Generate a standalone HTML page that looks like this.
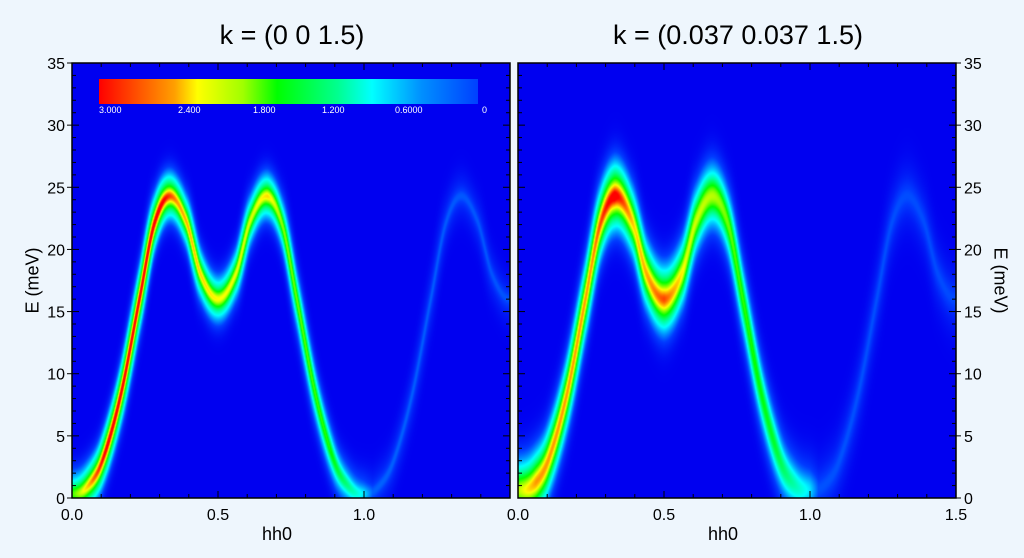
<!DOCTYPE html>
<html><head><meta charset="utf-8"><style>
html,body{margin:0;padding:0;}
body{width:1024px;height:558px;background:#eef6fd;position:relative;overflow:hidden;font-family:"Liberation Sans",sans-serif;}
canvas{position:absolute;}
.t{position:absolute;color:#000;}
.cb{position:absolute;color:#fff;font-size:9px;top:105px;}
</style></head><body>
<canvas id="c1" width="438" height="435" style="left:72px;top:63px"></canvas>
<canvas id="c2" width="438" height="435" style="left:518px;top:63px"></canvas>
<div style="position:absolute;left:99px;top:79px;width:379px;height:25px;background:linear-gradient(to right,#ff0000 0%,#ff5000 10%,#ffa000 20%,#ffff00 26%,#a0ff00 38%,#00ff00 47%,#00ff90 63%,#00ffff 72%,#0090ff 85%,#0040ff 100%)"></div>
<div class="cb" style="left:99px">3.000</div>
<div class="cb" style="left:178px">2.400</div>
<div class="cb" style="left:253px">1.800</div>
<div class="cb" style="left:322px">1.200</div>
<div class="cb" style="left:395px">0.6000</div>
<div class="cb" style="left:482px">0</div>
<svg width="1024" height="558" style="position:absolute;left:0;top:0" id="ax"></svg>
<div class="t" style="left:72px;width:440px;top:20px;text-align:center;font-size:27px">k = (0 0 1.5)</div>
<div class="t" style="left:518px;width:440px;top:20px;text-align:center;font-size:27px">k = (0.037 0.037 1.5)</div>
<div class="t" style="left:262px;top:524px;font-size:18px">hh0</div>
<div class="t" style="left:708px;top:524px;font-size:18px">hh0</div>
<div class="t" style="left:-12px;top:270px;font-size:18px;transform:rotate(-90deg);width:90px;text-align:center">E (meV)</div>
<div class="t" style="left:955px;top:270px;font-size:18px;transform:rotate(90deg);width:90px;text-align:center">E (meV)</div>
<script>
var P=[[0,0],[0.05,0.8],[0.1,2.8],[0.165,8.2],[0.23,16],[0.28,22],[0.333,24.3],[0.39,22.3],[0.44,18],[0.5,16],[0.56,18],[0.61,22.3]];
function cr(h){var i=0;while(i<P.length-2&&P[i+1][0]<h)i++;
var p0=P[Math.max(i-1,0)],p1=P[i],p2=P[i+1],p3=P[Math.min(i+2,P.length-1)];
var t=(h-p1[0])/(p2[0]-p1[0]);
var m1=(p2[1]-p0[1])/(p2[0]-p0[0])*(p2[0]-p1[0]),m2=(p3[1]-p1[1])/(p3[0]-p1[0])*(p2[0]-p1[0]);
if(i==0)m1=0;
var t2=t*t,t3=t2*t;return (2*t3-3*t2+1)*p1[1]+(t3-2*t2+t)*m1+(-2*t3+3*t2)*p2[1]+(t3-t2)*m2;}
function E(h){h=h-Math.floor(h);if(h>0.5)h=1-h;return cr(h);}
function lerp(a,b,t){return a+(b-a)*t;}
function interp(arr,h){for(var i=0;i<arr.length-1;i++){if(h<=arr[i+1][0]){var t=(h-arr[i][0])/(arr[i+1][0]-arr[i][0]);return lerp(arr[i][1],arr[i+1][1],t);}}return arr[arr.length-1][1];}
var CS=[[0,[0,0,240]],[0.3,[0,60,255]],[0.8,[0,255,255]],[1.6,[0,255,0]],[2.3,[255,255,0]],[2.6,[255,160,0]],[3,[255,0,0]]];
function col(v){if(v<=0)return CS[0][1];if(v>=3)return CS[6][1];for(var i=0;i<6;i++){if(v<=CS[i+1][0]){var t=(v-CS[i][0])/(CS[i+1][0]-CS[i][0]);var a=CS[i][1],b=CS[i+1][1];return [lerp(a[0],b[0],t),lerp(a[1],b[1],t),lerp(a[2],b[2],t)];}}}
function draw(id,A,s1,s2,w1,w2,gap){var c=document.getElementById(id),ctx=c.getContext('2d');var W=c.width,H=c.height;var im=ctx.createImageData(W,H);
for(var x=0;x<W;x++){var h=x/(W-1)*1.5;var e0=E(h);var sl=(E(h+0.002)-E(h-0.002))/0.004;
var Eb=Math.sqrt(e0*e0+gap*gap);var amp=interp(A,h);
var a1=Math.sqrt(s1*s1+Math.pow(sl*0.004,2)),a2=Math.sqrt(s2*s2+Math.pow(sl*0.01,2));
for(var y=0;y<H;y++){var en=(H-1-y)/(H-1)*35;var d=en-Eb;
var v=amp*(w1*Math.exp(-d*d/(2*a1*a1))+w2*Math.exp(-d*d/(2*a2*a2)));
var cc=col(v);var k=(y*W+x)*4;im.data[k]=cc[0];im.data[k+1]=cc[1];im.data[k+2]=cc[2];im.data[k+3]=255;}}
ctx.putImageData(im,0,0);}
draw('c1',[[0,1.7],[0.07,2.6],[0.12,3.0],[0.3,3.0],[0.36,2.5],[0.5,2.2],[0.62,2.1],[0.67,2.3],[0.72,1.9],[0.88,1.6],[0.95,1.1],[1.0,0.7],[1.03,0.38],[1.5,0.34]],0.45,1.3,0.45,0.6,0.3);
draw('c2',[[0,2.0],[0.06,2.5],[0.25,2.5],[0.33,3.0],[0.4,2.3],[0.5,2.7],[0.58,2.1],[0.67,2.0],[0.75,1.7],[0.88,1.4],[0.95,1.0],[1.0,0.7],[1.03,0.34],[1.5,0.32]],0.8,1.9,0.45,0.6,0.6);
var s='';
function L(x1,y1,x2,y2,w){s+='<line x1="'+x1+'" y1="'+y1+'" x2="'+x2+'" y2="'+y2+'" stroke="#000" stroke-width="'+(w||1)+'"/>';}
function T(x,y,t,a){s+='<text x="'+x+'" y="'+y+'" font-family="Liberation Sans,sans-serif" font-size="16" text-anchor="'+a+'">'+t+'</text>';}
[[72,510],[518,956]].forEach(function(p,pi){var x0=p[0],x1=p[1],y0=63,y1=498;
s+='<rect x="'+x0+'" y="'+y0+'" width="'+(x1-x0)+'" height="'+(y1-y0)+'" fill="none" stroke="#000" stroke-width="1.5"/>';
for(var i=0;i<=15;i++){var x=x0+(x1-x0)*i/15;var l=i%5==0?7:4;L(x,y1,x,y1-l);L(x,y0,x,y0+l);}
for(var j=0;j<=35;j++){var y=y1-(y1-y0)*j/35;var l=j%5==0?7:4;L(x0,y,x0+l,y);L(x1,y,x1-l,y);}
for(var j=0;j<=35;j+=5){var y=y1-(y1-y0)*j/35;if(pi==0){L(x0-5,y,x0,y);T(x0-7,y+6,j,'end');}else{L(x1,y,x1+5,y);T(x1+8,y+6,j,'start');}}
var labs=pi==0?[0,0.5,1.0]:[0,0.5,1.0,1.5];labs.forEach(function(v){T(x0+(x1-x0)*v/1.5,520,v.toFixed(1),'middle');});});
document.getElementById('ax').innerHTML=s;
</script>
</body></html>
